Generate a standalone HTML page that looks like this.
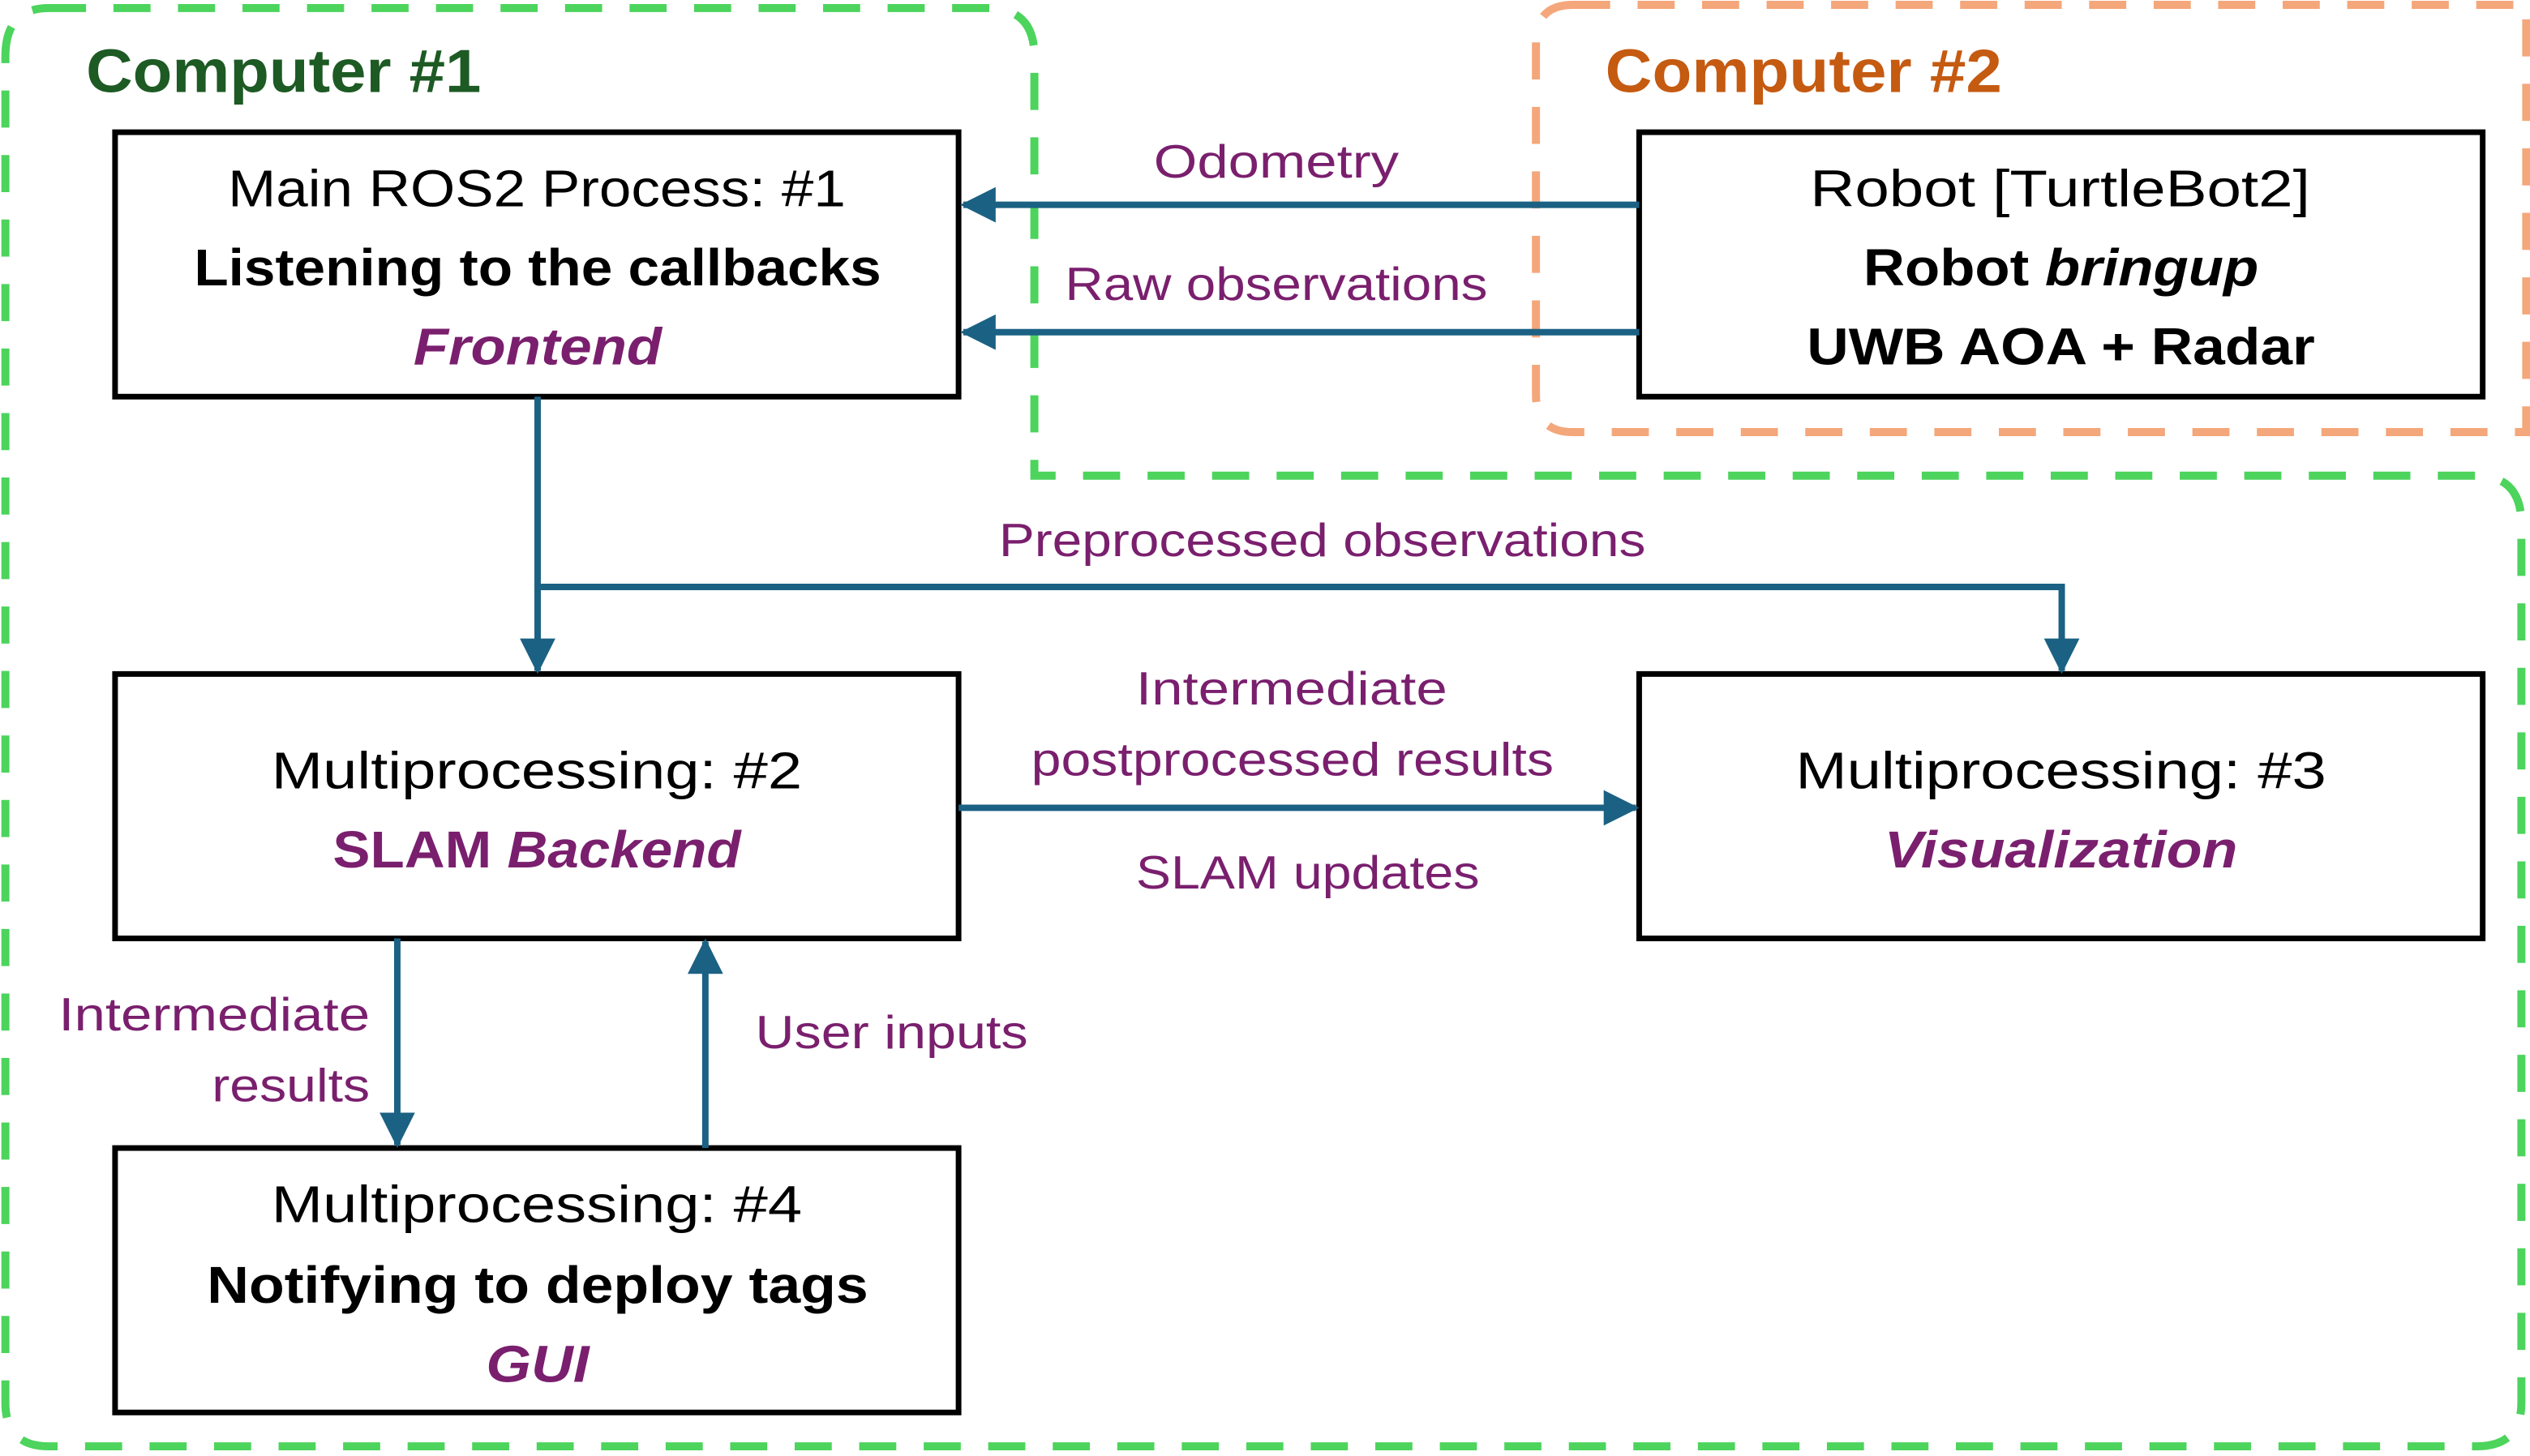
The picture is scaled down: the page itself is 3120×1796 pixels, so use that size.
<!DOCTYPE html>
<html><head><meta charset="utf-8"><style>
html,body{margin:0;padding:0;background:#fff;}
svg{display:block;}
text{font-family:"Liberation Sans",sans-serif;}
</style></head><body>
<svg width="3120" height="1796" viewBox="0 0 1568 903" xmlns="http://www.w3.org/2000/svg">
<defs>
<marker id="ah" markerWidth="22" markerHeight="22" refX="20" refY="11" orient="auto" markerUnits="userSpaceOnUse" viewBox="0 0 22 22">
<path d="M0,0 L22,11 L0,22 z" fill="#1b6183"/>
</marker>
</defs>
<path d="M30,5 L612,5 Q641,5 641,35 L641,295 L1535,295 Q1563,295 1563,325 L1563,870 Q1563,897 1535,897 L30,897 Q3,897 3,870 L3,35 Q3,5 30,5 Z" fill="none" stroke="#4cd45c" stroke-width="5" stroke-dasharray="23,17"/>
<path d="M975,3 L1566,3 L1566,268 L975,268 Q952,268 952,245 L952,26 Q952,3 975,3 Z" fill="none" stroke="#f4a77a" stroke-width="5" stroke-dasharray="23,17"/>
<text x="53" y="57" font-size="38" font-weight="bold" fill="#1d5a24" textLength="245" lengthAdjust="spacingAndGlyphs">Computer #1</text>
<text x="995" y="57" font-size="38" font-weight="bold" fill="#c55a11" textLength="246" lengthAdjust="spacingAndGlyphs">Computer #2</text>
<g fill="#fff" stroke="#000" stroke-width="3.5">
<rect x="71" y="82" width="523" height="164"/>
<rect x="1016" y="82" width="523" height="164"/>
<rect x="71" y="418" width="523" height="164"/>
<rect x="1016" y="418" width="523" height="164"/>
<rect x="71" y="712" width="523" height="164"/>
</g>
<g stroke="#1b6183" stroke-width="4" fill="none">
<line x1="1016" y1="127" x2="597" y2="127" marker-end="url(#ah)"/>
<line x1="1016" y1="206" x2="597" y2="206" marker-end="url(#ah)"/>
<line x1="333" y1="246" x2="333" y2="416" marker-end="url(#ah)"/>
<polyline points="333,364 1278,364 1278,416" marker-end="url(#ah)"/>
<line x1="594" y1="501" x2="1014" y2="501" marker-end="url(#ah)"/>
<line x1="246" y1="582" x2="246" y2="710" marker-end="url(#ah)"/>
<line x1="437" y1="712" x2="437" y2="584" marker-end="url(#ah)"/>
</g>
<g font-size="32" text-anchor="start">
<text x="141" y="128" textLength="383" lengthAdjust="spacingAndGlyphs">Main ROS2 Process: #1</text>
<text x="120" y="177" font-weight="bold" textLength="426" lengthAdjust="spacingAndGlyphs">Listening to the callbacks</text>
<text x="256" y="226" font-weight="bold" font-style="italic" fill="#7a1f6e" textLength="154" lengthAdjust="spacingAndGlyphs">Frontend</text>
<text x="1122" y="128" textLength="310" lengthAdjust="spacingAndGlyphs">Robot [TurtleBot2]</text>
<text x="1155" y="177" font-weight="bold" textLength="245" lengthAdjust="spacingAndGlyphs">Robot <tspan font-style="italic">bringup</tspan></text>
<text x="1120" y="226" font-weight="bold" textLength="315" lengthAdjust="spacingAndGlyphs">UWB AOA + Radar</text>
<text x="168" y="489" textLength="329" lengthAdjust="spacingAndGlyphs">Multiprocessing: #2</text>
<text x="206" y="538" font-weight="bold" fill="#7a1f6e" textLength="253" lengthAdjust="spacingAndGlyphs">SLAM <tspan font-style="italic">Backend</tspan></text>
<text x="1113" y="489" textLength="329" lengthAdjust="spacingAndGlyphs">Multiprocessing: #3</text>
<text x="1168" y="538" font-weight="bold" font-style="italic" fill="#7a1f6e" textLength="219" lengthAdjust="spacingAndGlyphs">Visualization</text>
<text x="168" y="758" textLength="329" lengthAdjust="spacingAndGlyphs">Multiprocessing: #4</text>
<text x="128" y="808" font-weight="bold" textLength="410" lengthAdjust="spacingAndGlyphs">Notifying to deploy tags</text>
<text x="301" y="857" font-weight="bold" font-style="italic" fill="#7a1f6e" textLength="64" lengthAdjust="spacingAndGlyphs">GUI</text>
</g>
<g font-size="29" fill="#7a1f6e">
<text x="715" y="110" textLength="152" lengthAdjust="spacingAndGlyphs">Odometry</text>
<text x="660" y="186" textLength="262" lengthAdjust="spacingAndGlyphs">Raw observations</text>
<text x="619" y="345" textLength="401" lengthAdjust="spacingAndGlyphs">Preprocessed observations</text>
<text x="704" y="437" textLength="193" lengthAdjust="spacingAndGlyphs">Intermediate</text>
<text x="639" y="481" textLength="324" lengthAdjust="spacingAndGlyphs">postprocessed results</text>
<text x="704" y="551" textLength="213" lengthAdjust="spacingAndGlyphs">SLAM updates</text>
<text x="36" y="639" textLength="193" lengthAdjust="spacingAndGlyphs">Intermediate</text>
<text x="131" y="683" textLength="98" lengthAdjust="spacingAndGlyphs">results</text>
<text x="468" y="650" textLength="169" lengthAdjust="spacingAndGlyphs">User inputs</text>
</g>
</svg>
</body></html>
